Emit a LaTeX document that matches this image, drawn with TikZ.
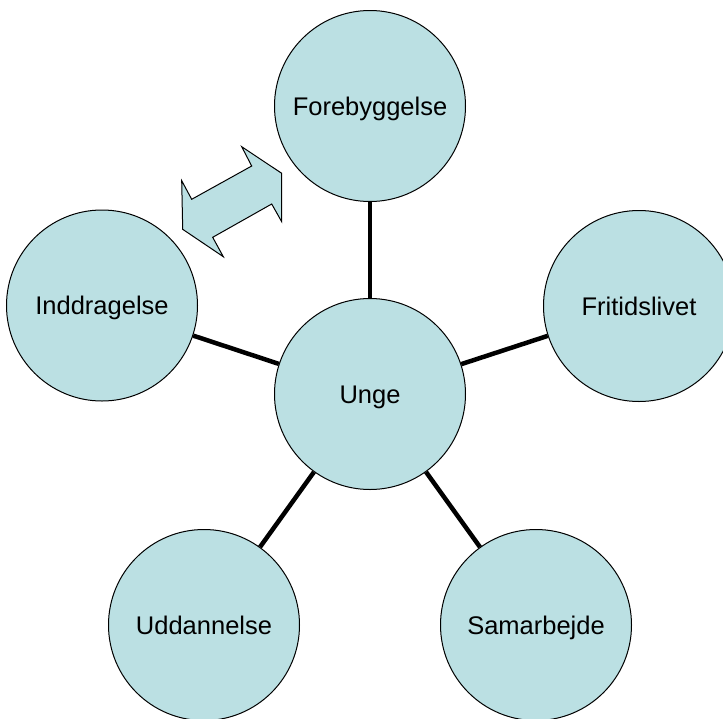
\documentclass[tikz,border=0pt]{standalone}
\usepackage{fontspec}
\setmainfont{Liberation Sans}
\definecolor{circfill}{RGB}{187,224,227}
\begin{document}
\begin{tikzpicture}[x=1pt,y=-1pt,
  bubble/.style={circle,draw=black,line width=1pt,fill=circfill,minimum size=191pt,inner sep=0pt,text height=18.3pt,text depth=0pt,font=\fontsize{25.5}{30}\selectfont},
  link/.style={line width=4.5pt,draw=black},
  blockarrow/.style={draw=black,line width=1pt,fill=circfill,line join=miter}]
\useasboundingbox (0,0) rectangle (723,718);
\clip (0,0) rectangle (723,718);
\node[bubble] (u) at (370,394) {Unge};
\node[bubble] (f) at (370,106) {Forebyggelse};
\node[bubble] (fr) at (639,306) {Fritidslivet};
\node[bubble] (i) at (102,305.5) {Inddragelse};
\node[bubble] (ud) at (204,625) {Uddannelse};
\node[bubble] (s) at (536,625) {Samarbejde};
\draw[link] (u) -- (f);
\draw[link] (u) -- (fr);
\draw[link] (u) -- (i);
\draw[link] (u) -- (ud);
\draw[link] (u) -- (s);
\draw[blockarrow] (241.7,146.7) -- (281.7,173.3) -- (281.7,221.7) -- (271.7,204)
  -- (212.7,237.3) -- (223.3,256.7) -- (182.7,229.3) -- (181.7,180.7)
  -- (191.7,199.3) -- (251.7,166) -- cycle;
\end{tikzpicture}
\end{document}
